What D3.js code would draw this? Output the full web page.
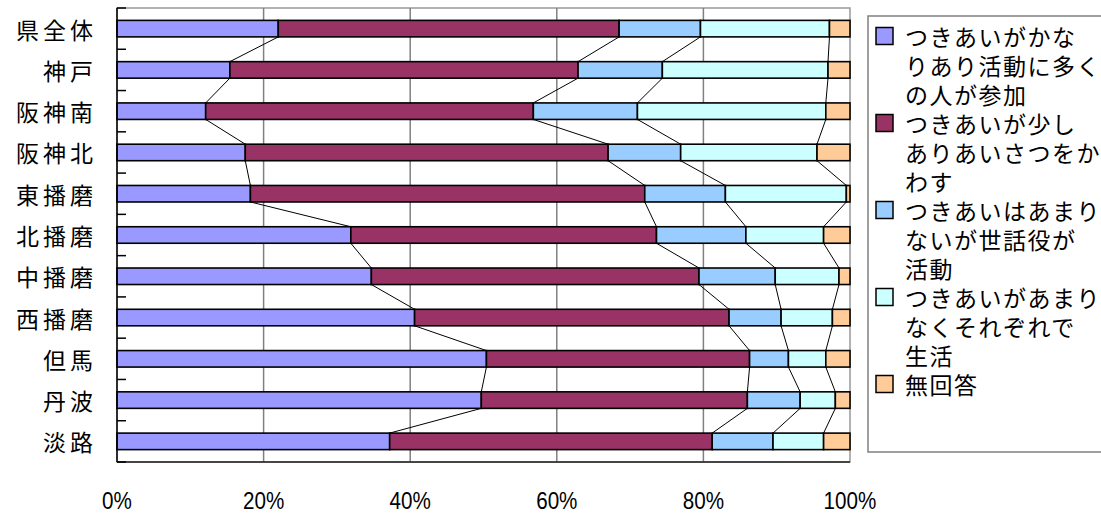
<!DOCTYPE html>
<html><head><meta charset="utf-8">
<script src="https://cdn.jsdelivr.net/npm/d3@7"></script>
<style>
body{margin:0;background:#fff;}
svg{display:block;}
text{font-family:"Noto Sans CJK JP","Noto Sans",sans-serif;fill:#000;}
</style></head>
<body><svg id="c" width="1101" height="514"></svg>
<script>
const categories = ["県全体","神戸","阪神南","阪神北","東播磨","北播磨","中播磨","西播磨","但馬","丹波","淡路"];
const seriesNames = ["つきあいがかなりあり活動に多くの人が参加","つきあいが少しありあいさつをかわす","つきあいはあまりないが世話役が活動","つきあいがあまりなくそれぞれで生活","無回答"];
const legendLines = [
  ["つきあいがかな","りあり活動に多く","の人が参加"],
  ["つきあいが少し","ありあいさつをか","わす"],
  ["つきあいはあまり","ないが世話役が","活動"],
  ["つきあいがあまり","なくそれぞれで","生活"],
  ["無回答"]
];
const s1 = [22.0,15.4,12.1,17.5,18.2,31.9,34.7,40.6,50.4,49.7,37.2];
const s2 = [46.5,47.5,44.7,49.5,53.8,41.7,44.7,42.9,35.9,36.3,44.0];
const s3 = [11.1,11.5,14.2,9.9,11.0,12.2,10.4,7.1,5.3,7.2,8.3];
const s4 = [17.6,22.6,25.7,18.6,16.5,10.6,8.7,7.0,5.1,4.8,6.9];
const s5 = [2.8,3.0,3.3,4.5,0.5,3.6,1.5,2.4,3.3,2.0,3.6];
const xTicks = [0,20,40,60,80,100];
const colors = ["#9999FF","#993366","#99CCFF","#CCFFFF","#FFCC99"];

const series = [s1,s2,s3,s4,s5];
const rows = categories.map((c,i)=>{const o={cat:c}; series.forEach((s,k)=>o["k"+k]=s[i]); return o;});
const keys = series.map((s,k)=>"k"+k);
const stack = d3.stack().keys(keys).offset(d3.stackOffsetExpand)(rows);

const svg = d3.select("#c");
const L=117, R=850, T=8, B=462;
const x = d3.scaleLinear().domain([0,1]).range([L,R]);
const xp = d3.scaleLinear().domain([0,100]).range([L,R]);
const y = d3.scaleBand().domain(categories).range([T,B]).paddingInner(0.6).paddingOuter(0.3);
const step = y.step();

// plot frame
svg.append("rect").attr("x",L).attr("y",T).attr("width",R-L).attr("height",B-T)
  .attr("fill","#fff").attr("stroke","#999").attr("stroke-width",1.5);
// grid
svg.append("g").selectAll("line").data(xTicks.slice(1,-1)).join("line")
  .attr("x1",d=>xp(d)).attr("x2",d=>xp(d)).attr("y1",T).attr("y2",B)
  .attr("stroke","#808080").attr("stroke-width",1.5);

// bars
const g = svg.append("g");
stack.forEach((layer,k)=>{
  g.append("g").selectAll("rect").data(layer).join("rect")
    .attr("x",d=>x(d[0])).attr("width",d=>x(d[1])-x(d[0]))
    .attr("y",(d,i)=>y(categories[i])).attr("height",y.bandwidth())
    .attr("fill",colors[k]).attr("stroke","#000").attr("stroke-width",1.6);
});
// series lines
for(let k=0;k<4;k++){
  const layer = stack[k];
  for(let i=0;i<categories.length-1;i++){
    g.append("line")
      .attr("x1",x(layer[i][1])).attr("y1",y(categories[i])+y.bandwidth())
      .attr("x2",x(layer[i+1][1])).attr("y2",y(categories[i+1]))
      .attr("stroke","#000").attr("stroke-width",1);
  }
}

// axes lines
svg.append("line").attr("x1",L).attr("x2",L).attr("y1",T).attr("y2",B).attr("stroke","#000").attr("stroke-width",1.5);
svg.append("line").attr("x1",L).attr("x2",R).attr("y1",B).attr("y2",B).attr("stroke","#222").attr("stroke-width",1.5);
// y ticks at band boundaries, inward
const bounds = d3.range(categories.length+1).map(i=>T+i*step);
svg.append("g").selectAll("line").data(bounds).join("line")
  .attr("x1",L).attr("x2",L+9).attr("y1",d=>d).attr("y2",d=>d)
  .attr("stroke","#000").attr("stroke-width",1.5);

// category labels
svg.append("g").selectAll("text").data(categories).join("text")
  .attr("x",97).attr("y",d=>y(d)+y.bandwidth()/2)
  .attr("text-anchor","end").attr("dominant-baseline","central")
  .attr("font-size",23).attr("letter-spacing",4)
  .text(d=>d);

// x labels
svg.append("g").selectAll("text").data(xTicks).join("text")
  .attr("transform",d=>`translate(${xp(d)},501) scale(0.86,1)`)
  .attr("text-anchor","middle").attr("dominant-baseline","central")
  .style("font-family","'Liberation Sans',Arial,sans-serif")
  .attr("font-size",24)
  .text(d=>d+"%");

// legend
svg.append("rect").attr("x",868).attr("y",16).attr("width",260).attr("height",436)
  .attr("fill","#fff").attr("stroke","#808080").attr("stroke-width",1.5);
let line=0;
const lg = svg.append("g");
legendLines.forEach((ls,k)=>{
  const cy = 36 + 29*line;
  lg.append("rect").attr("x",876).attr("y",cy-8.5).attr("width",17).attr("height",17)
    .attr("fill",colors[k]).attr("stroke","#000").attr("stroke-width",1.5);
  ls.forEach((t,j)=>{
    lg.append("text").attr("x",905).attr("y",36+29*(line+j))
      .attr("dominant-baseline","central").attr("font-size",23).attr("letter-spacing",1.5)
      .text(t);
  });
  line += ls.length;
});
</script></body></html>
